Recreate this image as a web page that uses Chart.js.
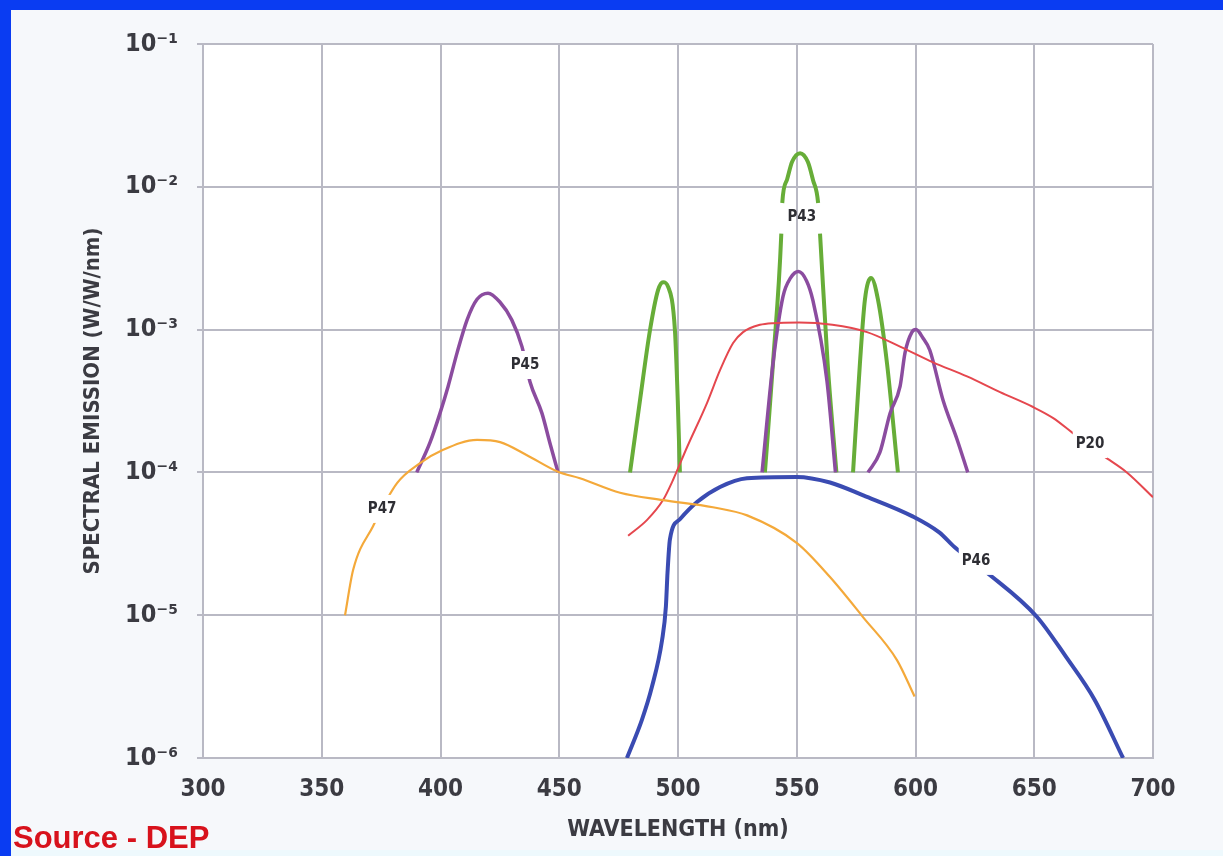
<!DOCTYPE html>
<html>
<head>
<meta charset="utf-8">
<script src="https://cdn.jsdelivr.net/npm/chart.js@4/dist/chart.umd.min.js"></script>
<style>
    html, body { margin: 0; padding: 0; }
    body { width: 1223px; height: 856px; position: relative; overflow: hidden; background: #f6f8fb; }
    #topBand { position: absolute; left: 0; top: 0; width: 1223px; height: 10px; background: #0a3cf2; }
    #leftBand { position: absolute; left: 0; top: 0; width: 11px; height: 856px; background: #0a3cf2; }
    #bottomBand { position: absolute; left: 11px; bottom: 0; width: 1212px; height: 6px; background: #eef9fd; }
    #chartBox { position: absolute; left: 0; top: 0; width: 1223px; height: 856px; }
    #source { position: absolute; left: 13px; top: 822px; color: #d8121c; font: bold 31px 'Liberation Sans', Arial, sans-serif; line-height: 32px; }
</style>
</head>
<body>
<div id="topBand"></div>
<div id="leftBand"></div>
<div id="bottomBand"></div>
<div id="chartBox"><canvas id="spectra"></canvas></div>
<div id="source">Source - DEP</div>
<script>
// axis ticks
const xTickValues = [300, 350, 400, 450, 500, 550, 600, 650, 700];
const yTickValues = [1e-6, 1e-5, 1e-4, 1e-3, 1e-2, 1e-1];
const yTickLabels = ['10⁻⁶', '10⁻⁵', '10⁻⁴', '10⁻³', '10⁻²', '10⁻¹'];

// P47 (orange)
const p47Nm  = [359.8, 363.2, 371.6, 381.7, 391.4, 401.1, 415.4, 425.1, 436.4, 449.5, 458.7, 475.6, 493.7, 514.7, 529.1, 550.1, 564.0, 577.9, 592.2, 599.6];
const p47Val = [1.0e-5, 2.07e-5, 4.2e-5, 8.4e-5, 1.16e-4, 1.44e-4, 1.69e-4, 1.63e-4, 1.32e-4, 1.01e-4, 9.1e-5, 7.2e-5, 6.4e-5, 5.7e-5, 5.0e-5, 3.2e-5, 1.85e-5, 9.7e-6, 4.85e-6, 2.7e-6];

// P45 (purple) - three bands, null splits them
const p45Nm  = [390, 395.6, 399.8, 403.2, 407, 411.2, 415.4, 420, 425, 430, 434.3, 437.7, 442.7, 446, 449.5, 492,
                535.4, 540, 544.2, 547.4, 550.7, 554.1, 556.8, 562.7, 566.3, 573,
                580, 585, 589.3, 593.5, 595.6, 598.5, 600.2, 603.2, 606, 611.6, 617.5, 622];
const p45Val = [1e-4, 1.62e-4, 2.6e-4, 4.0e-4, 6.9e-4, 1.17e-3, 1.63e-3, 1.8e-3, 1.56e-3, 1.17e-3, 7.6e-4, 4.3e-4, 2.6e-4, 1.62e-4, 1e-4, null,
                1e-4, 5.8e-4, 1.7e-3, 2.3e-3, 2.55e-3, 2.2e-3, 1.6e-3, 4.4e-4, 1e-4, null,
                1e-4, 1.38e-4, 2.6e-4, 4.0e-4, 6.9e-4, 9.6e-4, 1.0e-3, 8.7e-4, 7.2e-4, 3.2e-4, 1.7e-4, 1e-4];

// P43 (green) - three bands
const p43Nm  = [479.8, 484, 488.2, 491.6, 493.7, 495.8, 498.7, 499.9, 500.8, 520,
                536.6, 540, 543.5, 543.9, 545.9, 548.0, 551.4, 554.7, 556.8, 559.0, 559.8, 563, 566.7, 570,
                573.7, 576.6, 578.7, 581.3, 584.2, 588, 592.6];
const p43Val = [1e-4, 3.2e-4, 9.9e-4, 1.89e-3, 2.15e-3, 2.0e-3, 9.9e-4, 3.2e-4, 1e-4, null,
                1e-4, 5.8e-4, 4.7e-3, 7.7e-3, 1.12e-2, 1.49e-2, 1.72e-2, 1.49e-2, 1.12e-2, 7.7e-3, 4.7e-3, 5.8e-4, 1e-4, null,
                1e-4, 5.8e-4, 1.62e-3, 2.3e-3, 1.62e-3, 5.8e-4, 1e-4];

// P20 (red)
const p20Nm  = [479, 487, 493.7, 497.9, 503.8, 512.2, 517.7, 523.2, 527.4, 534.5, 540, 551, 565, 579.6, 593.5, 607.4, 621.7, 635.6, 649.5, 658, 666, 679, 689, 700];
const p20Val = [3.6e-5, 4.65e-5, 6.4e-5, 8.85e-5, 1.5e-4, 3.06e-4, 5.2e-4, 8.05e-4, 9.6e-4, 1.08e-3, 1.11e-3, 1.12e-3, 1.08e-3, 9.6e-4, 7.6e-4, 5.9e-4, 4.7e-4, 3.65e-4, 2.87e-4, 2.4e-4, 1.9e-4, 1.31e-4, 1.0e-4, 6.7e-5];

// P46 (blue)
const p46Nm  = [478.5, 484.8, 489, 493.3, 494.9, 495.6, 496.6, 500.8, 508, 517.7, 529, 550, 564, 578, 599, 610, 616.4, 629.9, 651, 663.4, 675.4, 687.4];
const p46Val = [1e-6, 1.85e-6, 3.14e-6, 6.7e-6, 1.15e-5, 2.0e-5, 3.4e-5, 4.7e-5, 6.2e-5, 7.9e-5, 9.1e-5, 9.3e-5, 8.5e-5, 6.9e-5, 4.9e-5, 3.8e-5, 3.0e-5, 2.0e-5, 9.8e-6, 5.1e-6, 2.56e-6, 1e-6];

// curve names written on the plot
const labelText = ['P43', 'P45', 'P47', 'P46', 'P20'];
const labelNm   = [552.1, 435.6, 375.4, 625.5, 673.5];
const labelVal  = [6.1e-3, 5.65e-4, 5.55e-5, 2.4e-5, 1.58e-4];

const narrow = "'Liberation Sans Narrow', 'DejaVu Sans Condensed', 'Roboto Condensed', 'Arial Narrow', sans-serif";
const inkColor = '#3b3b42';
const gridColor = '#b9b9c4';

function toPoints(xs, ys) {
    return xs.map((x, i) => ({ x: x, y: ys[i] }));
}

function curve(label, xs, ys, color, width) {
    return {
        label: label,
        data: toPoints(xs, ys),
        borderColor: color,
        borderWidth: width,
        pointRadius: 0,
        cubicInterpolationMode: 'monotone',
        spanGaps: false,
        fill: false
    };
}

const p43 = curve('P43', p43Nm, p43Val, '#67ad38', 4);
// the reference breaks the tall green peak where its label sits
p43.segment = {
    borderColor: ctx => {
        const a = ctx.p0.parsed.y, b = ctx.p1.parsed.y;
        return (a > 4.5e-3 && a < 8e-3 && b > 4.5e-3 && b < 8e-3) ? 'transparent' : undefined;
    }
};

const plotBackground = {
    id: 'plotBackground',
    beforeDraw(chart) {
        const { ctx, chartArea } = chart;
        ctx.save();
        ctx.fillStyle = '#ffffff';
        ctx.fillRect(chartArea.left, chartArea.top, chartArea.right - chartArea.left, chartArea.bottom - chartArea.top);
        ctx.restore();
    }
};

const curveLabels = {
    id: 'curveLabels',
    afterDatasetsDraw(chart) {
        const ctx = chart.ctx;
        const xs = chart.scales.x, ys = chart.scales.y;
        ctx.save();
        ctx.font = 'bold 15px ' + narrow;
        ctx.textAlign = 'center';
        ctx.textBaseline = 'middle';
        labelText.forEach((t, i) => {
            const px = xs.getPixelForValue(labelNm[i]);
            const py = ys.getPixelForValue(labelVal[i]);
            const w = ctx.measureText(t).width;
            if (t !== 'P43') {
                ctx.fillStyle = '#ffffff';
                ctx.fillRect(px - w / 2 - 3, py - 14, w + 6, 28);
            }
            ctx.fillStyle = '#2e2e34';
            ctx.fillText(t, px, py);
        });
        ctx.restore();
    }
};

new Chart(document.getElementById('spectra'), {
    type: 'line',
    data: {
        datasets: [
            curve('P47', p47Nm, p47Val, '#f4a93a', 2.2),
            curve('P20', p20Nm, p20Val, '#e5474e', 2),
            curve('P45', p45Nm, p45Val, '#8b4c9f', 3.5),
            p43,
            curve('P46', p46Nm, p46Val, '#3a4bb2', 4)
        ]
    },
    options: {
        responsive: true,
        maintainAspectRatio: false,
        animation: false,
        layout: { padding: { left: 0, right: 70, top: 44, bottom: 0 } },
        plugins: {
            legend: { display: false },
            tooltip: { enabled: false }
        },
        scales: {
            x: {
                type: 'linear',
                min: 300,
                max: 700,
                afterBuildTicks: scale => { scale.ticks = xTickValues.map(v => ({ value: v })); },
                afterFit: scale => { scale.height = 98; },
                grid: { color: gridColor, lineWidth: 2, drawTicks: false },
                border: { color: gridColor, width: 2 },
                ticks: {
                    padding: 17,
                    color: inkColor,
                    font: { family: narrow, size: 24, weight: 'bold' },
                    maxRotation: 0
                },
                title: {
                    display: true,
                    text: 'WAVELENGTH (nm)',
                    color: inkColor,
                    font: { family: narrow, size: 23, weight: 'bold' },
                    padding: { top: 0, bottom: 12 }
                }
            },
            y: {
                type: 'logarithmic',
                min: 1e-6,
                max: 1e-1,
                afterBuildTicks: scale => { scale.ticks = yTickValues.map(v => ({ value: v })); },
                afterFit: scale => { scale.width = 203; },
                grid: { color: gridColor, lineWidth: 2, tickLength: 6 },
                border: { color: gridColor, width: 2 },
                ticks: {
                    padding: 19,
                    color: inkColor,
                    font: { family: narrow, size: 25, weight: 'bold' },
                    callback: value => {
                        const i = yTickValues.findIndex(v => Math.abs(v - value) / v < 1e-6);
                        return i >= 0 ? yTickLabels[i] : '';
                    }
                },
                title: {
                    display: true,
                    text: 'SPECTRAL EMISSION (W/W/nm)',
                    color: inkColor,
                    font: { family: narrow, size: 22, weight: 'bold' },
                    padding: { top: 80, bottom: 0 }
                }
            }
        }
    },
    plugins: [plotBackground, curveLabels]
});
</script>
</body>
</html>
